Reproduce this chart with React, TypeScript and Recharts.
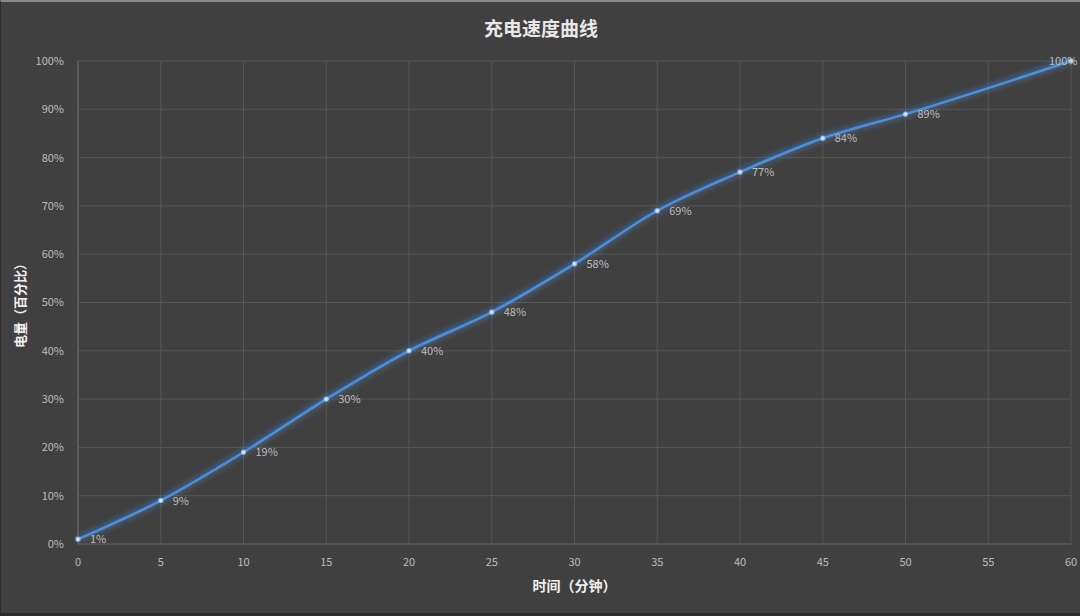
import { CartesianGrid, Label, LabelList, Line, LineChart, XAxis, YAxis } from "recharts";

const minutes = [0, 5, 10, 15, 20, 25, 30, 35, 40, 45, 50, 60];
const battery = [1, 9, 19, 30, 40, 48, 58, 69, 77, 84, 89, 100];
const xTicks = [0, 5, 10, 15, 20, 25, 30, 35, 40, 45, 50, 55, 60];
const yTicks = [0, 10, 20, 30, 40, 50, 60, 70, 80, 90, 100];

const data = minutes.map((m, i) => ({ minute: m, level: battery[i] }));

const font = "'Noto Sans CJK SC', 'DejaVu Sans', sans-serif";
const muted = "#bdbdbd";

function PointLabel(props: any) {
  const { x, y, value, index } = props;
  const last = index === data.length - 1;
  return (
    <text
      x={last ? x - 22 : x + 12}
      y={y + 4}
      fill={muted}
      fontSize={11}
      fontFamily={font}
    >
      {value}%
    </text>
  );
}

function YTitle(props: any) {
  const { viewBox } = props;
  const cy = viewBox.y + viewBox.height / 2;
  return (
    <text
      x={18}
      y={cy}
      transform={`rotate(-90, 18, ${cy})`}
      textAnchor="middle"
      dominantBaseline="central"
      fill="#f0f0f0"
      fontSize={13}
      fontWeight={700}
      fontFamily={font}
    >
      电量（百分比）
    </text>
  );
}

export default function App() {
  return (
    <div
      style={{
        position: "relative",
        width: 1080,
        height: 616,
        background: "#404040",
        boxSizing: "border-box",
        borderTop: "2px solid #8a8a8a",
        borderBottom: "3px solid #2a2a2a",
        borderLeft: "1px solid #2e2e2e",
        fontFamily: font,
      }}
    >
      <style>{`body{margin:0}`}</style>
      <div
        style={{
          position: "absolute",
          top: 12,
          left: 0,
          width: 1080,
          textAlign: "center",
          color: "#e8e8e8",
          fontSize: 19,
          fontWeight: 700,
        }}
      >
        充电速度曲线
      </div>
      <LineChart
        width={1078}
        height={611}
        data={data}
        margin={{ top: 59, right: 8, bottom: 36, left: 0 }}
        style={{ position: "absolute", top: 0, left: 0 }}
      >
        <defs>
          <filter id="glow" x="-10%" y="-10%" width="120%" height="120%">
            <feGaussianBlur stdDeviation="3" result="blur" />
            <feMerge>
              <feMergeNode in="blur" />
              <feMergeNode in="SourceGraphic" />
            </feMerge>
          </filter>
        </defs>
        <CartesianGrid stroke="#555555" strokeWidth={1} />
        <XAxis
          dataKey="minute"
          type="number"
          domain={[0, 60]}
          ticks={xTicks}
          height={33}
          tick={{ fill: muted, fontSize: 11, fontFamily: font }}
          tickLine={false}
          axisLine={{ stroke: "#5a5a5a" }}
          tickMargin={8}
        >
          <Label
            value="时间（分钟）"
            position="insideBottom"
            offset={-14}
            fill="#f0f0f0"
            fontSize={14}
            fontWeight={700}
            fontFamily={font}
          />
        </XAxis>
        <YAxis
          domain={[0, 100]}
          ticks={yTicks}
          width={77}
          tickFormatter={(v: number) => `${v}%`}
          tick={{ fill: muted, fontSize: 11, fontFamily: font }}
          tickLine={false}
          axisLine={{ stroke: "#6a6a6a" }}
          tickMargin={8}
        >
          <Label position="insideLeft" content={YTitle} />
        </YAxis>
        <Line
          type="monotone"
          dataKey="level"
          stroke="#4a8fe0"
          strokeWidth={2.5}
          filter="url(#glow)"
          dot={{ r: 2, fill: "#d6e6fa", stroke: "#9cc4f2", strokeWidth: 1 }}
          activeDot={false}
          isAnimationActive={false}
        >
          <LabelList dataKey="level" content={PointLabel} />
        </Line>
      </LineChart>
    </div>
  );
}
